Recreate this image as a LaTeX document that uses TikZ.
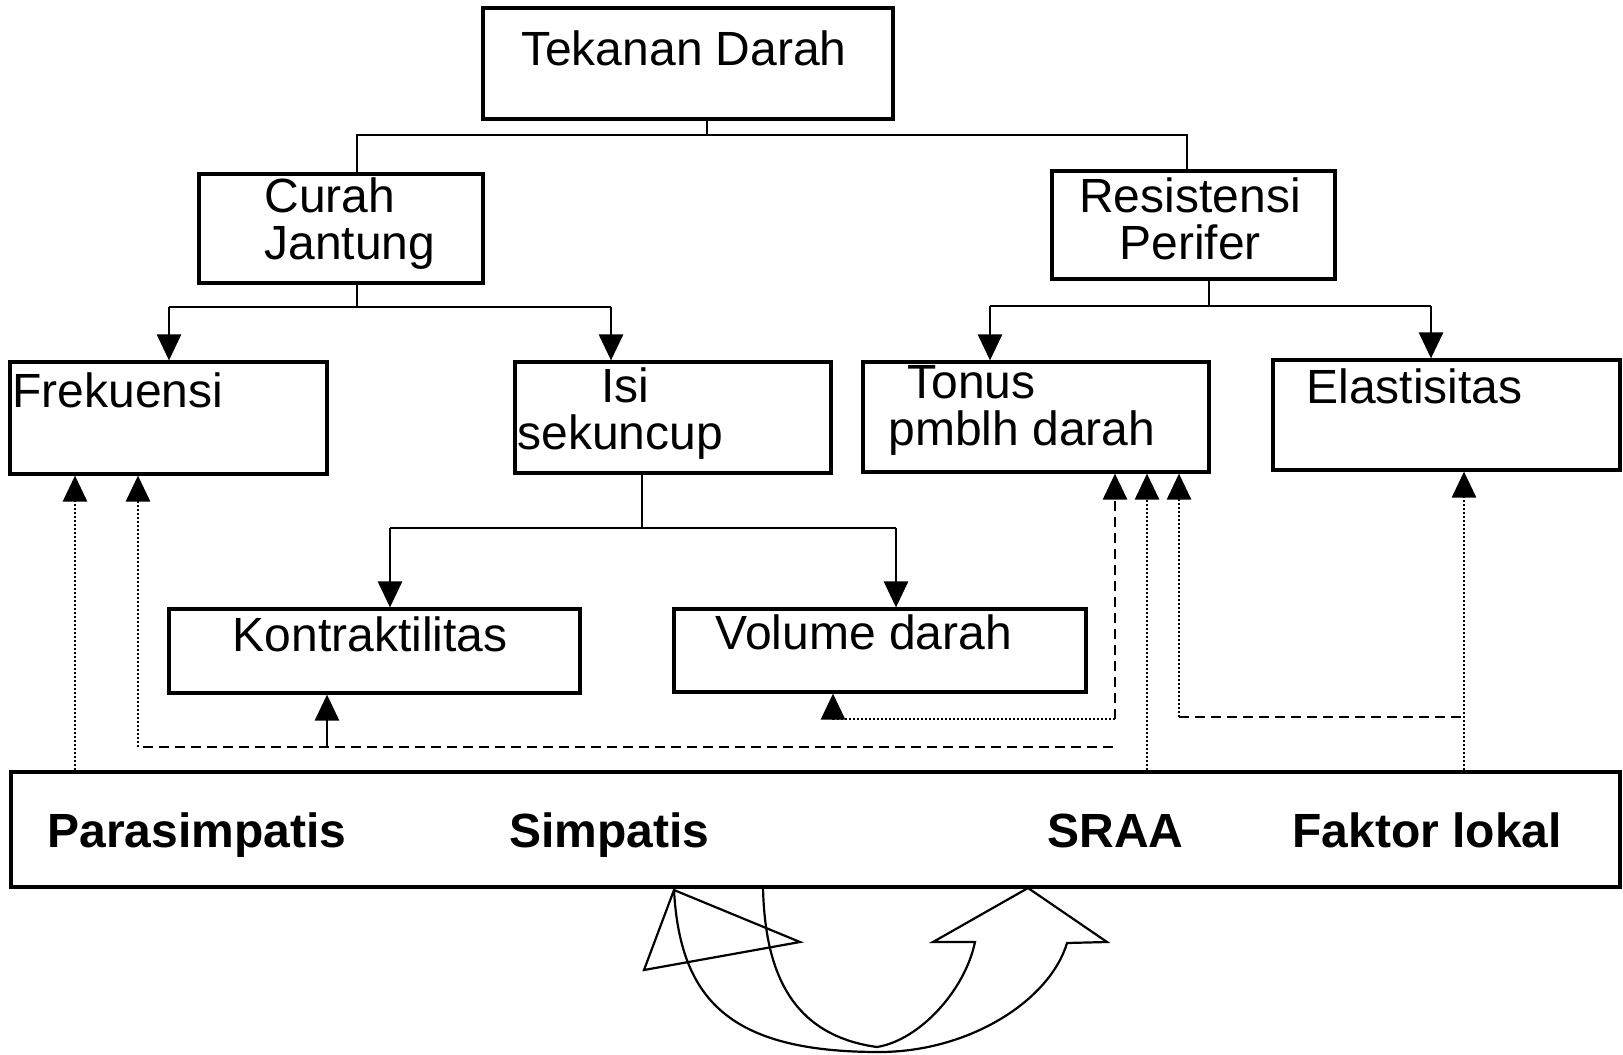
\documentclass[tikz,border=0pt]{standalone}
\usepackage{fontspec}
\setmainfont{Liberation Sans}
\usetikzlibrary{arrows.meta}

\begin{document}
\begin{tikzpicture}[x=0.5pt,y=-0.5pt,
    box/.style={draw,line width=1.6pt,inner sep=0pt},
    txt/.style={inner sep=0pt,font=\fontsize{24}{23.5}\selectfont},
    btxt/.style={inner sep=0pt,font=\fontsize{24}{23.5}\selectfont\bfseries},
    link/.style={line width=1.4pt},
    arr/.style={line width=1.4pt,-{Triangle[width=12pt,length=13pt]}},
    dotline/.style={line width=1pt,densely dotted},
    dashline/.style={line width=1.3pt,dash pattern=on 5pt off 3pt},
    swoosh/.style={line width=1.1pt,line join=miter}]
    \useasboundingbox (0,0) rectangle (1623,1055);
    % boxes
    \node[box,minimum width=205pt,minimum height=55.5pt] (top) at (688,63.5) {};
    \node[box,minimum width=142pt,minimum height=54.5pt] (curah) at (341,228.5) {};
    \node[box,minimum width=141.5pt,minimum height=54pt] (resis) at (1193.5,225) {};
    \node[box,minimum width=158.5pt,minimum height=56pt] (frek) at (168.5,418) {};
    \node[box,minimum width=158pt,minimum height=55.5pt] (isi) at (673,417.5) {};
    \node[box,minimum width=173pt,minimum height=55pt] (tonus) at (1036,417) {};
    \node[box,minimum width=173.5pt,minimum height=55pt] (elas) at (1446.5,415) {};
    \node[box,minimum width=205.5pt,minimum height=42pt] (kontr) at (374.5,651) {};
    \node[box,minimum width=206pt,minimum height=41.5pt] (vol) at (880,650.5) {};
    \node[box,minimum width=804.5pt,minimum height=57.5pt] (base) at (815.5,829.5) {};
    % texts
    \node[txt] (ttop) at (684,48) {Tekanan Darah};
    \node[txt,anchor=west,align=left] (tcurah) at (264,224) {Curah\\Jantung};
    \node[txt,align=center] (tresis) at (1190,219) {Resistensi\\Perifer};
    \node[txt,anchor=west] (tfrek) at (12,390) {Frekuensi};
    \node[txt,anchor=west,align=left] (tisi) at (517,414) {\hspace*{42pt}Isi\\sekuncup};
    \node[txt,anchor=west,align=left] (ttonus) at (888,410) {\hspace*{9.5pt}Tonus\\pmblh darah};
    \node[txt,anchor=west] (telas) at (1306,386) {Elastisitas};
    \node[txt] (tkontr) at (370,634) {Kontraktilitas};
    \node[txt] (tvol) at (864,632) {Volume darah};
    \node[btxt,anchor=base west] (para) at (47,847) {Parasimpatis};
    \node[btxt,anchor=base west] (simp) at (509,847) {Simpatis};
    \node[btxt,anchor=base west] (sraa) at (1047,847) {SRAA};
    \node[btxt,anchor=base west] (lokal) at (1292,847) {Faktor lokal};
    % tree joints
    \coordinate (j1) at (707,135);
    \coordinate (j1l) at (357,135);
    \coordinate (j1r) at (1187,135);
    \coordinate (j2) at (357,307);
    \coordinate (j2l) at (169,307);
    \coordinate (j2r) at (611,307);
    \coordinate (j3) at (1209,306);
    \coordinate (j3l) at (990,306);
    \coordinate (j3r) at (1431,306);
    \coordinate (j4) at (642,528);
    \coordinate (j4l) at (390,528);
    \coordinate (j4r) at (896,528);
    \draw[link] (j1 |- top.south) -- (j1);
    \draw[link] (j1l |- curah.north) -- (j1l) -- (j1r) -- (j1r |- resis.north);
    \draw[link] (j2 |- curah.south) -- (j2);
    \draw[link] (j2l) -- (j2r);
    \draw[arr] (j2l) -- (j2l |- frek.north);
    \draw[arr] (j2r) -- (j2r |- isi.north);
    \draw[link] (j3 |- resis.south) -- (j3);
    \draw[link] (j3l) -- (j3r);
    \draw[arr] (j3l) -- (j3l |- tonus.north);
    \draw[arr] (j3r) -- (j3r |- elas.north);
    \draw[link] (j4 |- isi.south) -- (j4);
    \draw[link] (j4l) -- (j4r);
    \draw[arr] (j4l) -- (j4l |- kontr.north);
    \draw[arr] (j4r) -- (j4r |- vol.north);
    % feedback lines
    \coordinate (f1) at (75,0);
    \coordinate (f2a) at (1113,747);
    \coordinate (f2b) at (138,747);
    \coordinate (f2c) at (327,747);
    \coordinate (f3a) at (1115,719);
    \coordinate (f3b) at (833,719);
    \coordinate (f4) at (1147,0);
    \coordinate (f5a) at (1179,717);
    \coordinate (f5b) at (1464,717);
    \draw[dotline,arr] (f1 |- base.north) -- (f1 |- frek.south);
    \draw[dashline] (f2a) -- (f2b);
    \draw[dotline,arr] (f2b) -- (f2b |- frek.south);
    \draw[arr] (f2c) -- (f2c |- kontr.south);
    \draw[dashline,arr] (f3a) -- (f3a |- tonus.south);
    \draw[dotline] (f3a) -- (f3b);
    \draw[arr] (f3b) -- (f3b |- vol.south);
    \draw[dotline,arr] (f4 |- base.north) -- (f4 |- tonus.south);
    \draw[dotline,arr] (f5a) -- (f5a |- tonus.south);
    \draw[dashline] (f5a) -- (f5b);
    \draw[dotline,arr] (f5b |- base.north) -- (f5b |- elas.south);
    % curved arrows under the base
    \draw[swoosh] (674,890) -- (644,970) -- (800,942) -- cycle;
    \draw[swoosh] (674,890) .. controls (680,1000) and (730,1052) .. (879,1052);
    \draw[swoosh] (763,888) .. controls (765,970) and (790,1035) .. (877,1047);
    \draw[swoosh] (879,1052) .. controls (970,1052) and (1050,1000) .. (1067,943)
        -- (1107,942) -- (1028,888) -- (933,942) -- (975,942)
        .. controls (965,990) and (920,1040) .. (877,1047);
\end{tikzpicture}
\end{document}
